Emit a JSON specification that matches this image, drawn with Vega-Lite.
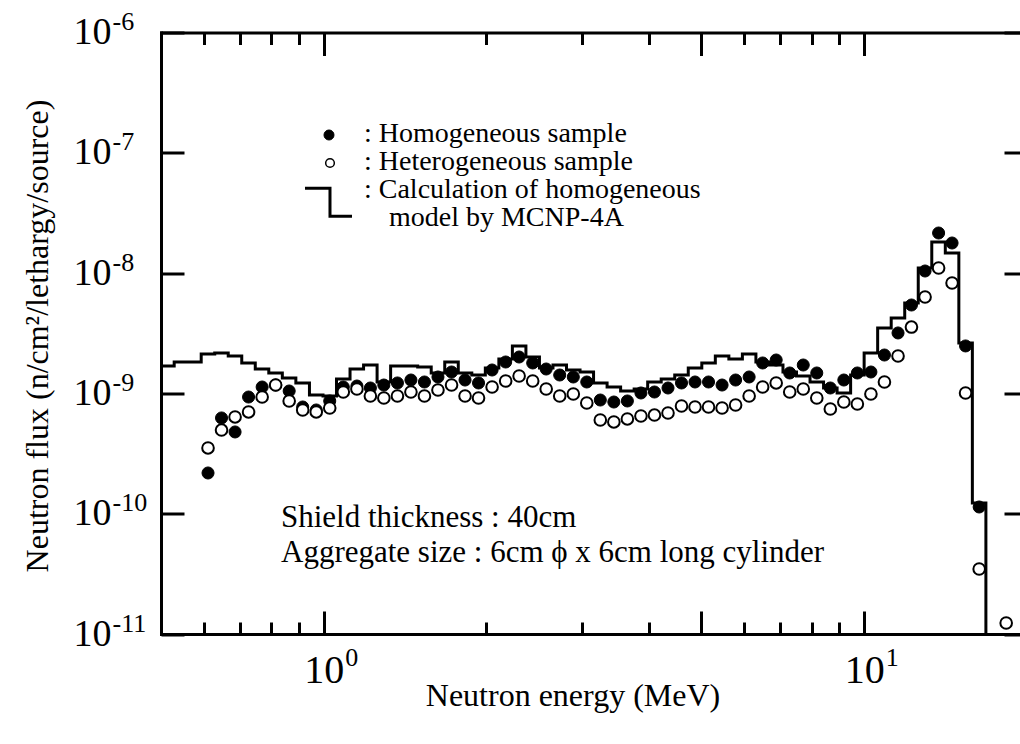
{
  "$schema": "https://vega.github.io/schema/vega-lite/v6.json",
  "width": 859,
  "height": 601.5,
  "autosize": "none",
  "padding": {"left": 161, "top": 32.5, "right": 0, "bottom": 110},
  "background": "white",
  "config": {
    "view": {"stroke": null},
    "axis": {
      "grid": false,
      "labelFont": "Liberation Serif",
      "titleFont": "Liberation Serif",
      "labelColor": "black",
      "titleColor": "black",
      "tickColor": "black",
      "domainColor": "black",
      "tickWidth": 3,
      "domainWidth": 3,
      "domainCap": "square",
      "titleFontWeight": "normal",
      "labelFlush": false,
      "labelOverlap": false
    }
  },
  "datasets": {
    "calc": [
      {"E": 0.5, "flux": 1.689e-9},
      {"E": 0.5289, "flux": 1.824e-9},
      {"E": 0.5603, "flux": 1.824e-9},
      {"E": 0.5934, "flux": 2.125e-9},
      {"E": 0.6286, "flux": 2.166e-9},
      {"E": 0.6658, "flux": 2.046e-9},
      {"E": 0.7053, "flux": 1.79e-9},
      {"E": 0.7471, "flux": 1.595e-9},
      {"E": 0.7914, "flux": 1.478e-9},
      {"E": 0.8384, "flux": 1.343e-9},
      {"E": 0.8881, "flux": 1.221e-9},
      {"E": 0.9411, "flux": 9.7e-10},
      {"E": 0.997, "flux": 9.51e-10},
      {"E": 1.0561, "flux": 1.318e-9},
      {"E": 1.1187, "flux": 1.595e-9},
      {"E": 1.1851, "flux": 1.722e-9},
      {"E": 1.2554, "flux": 1.244e-9},
      {"E": 1.3299, "flux": 1.689e-9},
      {"E": 1.4088, "flux": 1.689e-9},
      {"E": 1.4924, "flux": 1.657e-9},
      {"E": 1.5809, "flux": 1.478e-9},
      {"E": 1.6747, "flux": 1.824e-9},
      {"E": 1.7741, "flux": 1.478e-9},
      {"E": 1.8793, "flux": 1.422e-9},
      {"E": 1.9908, "flux": 1.626e-9},
      {"E": 2.1089, "flux": 1.931e-9},
      {"E": 2.234, "flux": 2.48e-9},
      {"E": 2.3666, "flux": 2.007e-9},
      {"E": 2.507, "flux": 1.626e-9},
      {"E": 2.6557, "flux": 1.722e-9},
      {"E": 2.8133, "flux": 1.565e-9},
      {"E": 2.9802, "flux": 1.506e-9},
      {"E": 3.157, "flux": 1.221e-9},
      {"E": 3.3443, "flux": 1.13e-9},
      {"E": 3.5427, "flux": 1.047e-9},
      {"E": 3.7529, "flux": 1.088e-9},
      {"E": 3.9756, "flux": 1.244e-9},
      {"E": 4.2114, "flux": 1.318e-9},
      {"E": 4.4613, "flux": 1.422e-9},
      {"E": 4.726, "flux": 1.626e-9},
      {"E": 5.0064, "flux": 1.79e-9},
      {"E": 5.3034, "flux": 2.046e-9},
      {"E": 5.6181, "flux": 1.931e-9},
      {"E": 5.9514, "flux": 2.125e-9},
      {"E": 6.3045, "flux": 1.824e-9},
      {"E": 6.6786, "flux": 1.722e-9},
      {"E": 7.0748, "flux": 1.506e-9},
      {"E": 7.4946, "flux": 1.395e-9},
      {"E": 7.9392, "flux": 1.244e-9},
      {"E": 8.4103, "flux": 1.109e-9},
      {"E": 8.9093, "flux": 1.008e-9},
      {"E": 9.4379, "flux": 1.422e-9},
      {"E": 9.9972, "flux": 2.166e-9},
      {"E": 10.59, "flux": 3.5e-9},
      {"E": 11.219, "flux": 4.23e-9},
      {"E": 11.884, "flux": 5.64e-9},
      {"E": 12.589, "flux": 1.102e-8},
      {"E": 13.336, "flux": 1.813e-8},
      {"E": 14.127, "flux": 1.469e-8},
      {"E": 14.966, "flux": 2.624e-9},
      {"E": 15.853, "flux": 1.227e-10},
      {"E": 16.794, "flux": 1e-12}
    ],
    "homogeneous": [
      {"E": 0.6109, "flux": 2.18e-10},
      {"E": 0.6471, "flux": 6.25e-10},
      {"E": 0.6855, "flux": 4.78e-10},
      {"E": 0.7261, "flux": 9.33e-10},
      {"E": 0.7693, "flux": 1.13e-9},
      {"E": 0.8149, "flux": 1.174e-9},
      {"E": 0.8632, "flux": 1.047e-9},
      {"E": 0.9144, "flux": 7.71e-10},
      {"E": 0.9687, "flux": 7.28e-10},
      {"E": 1.026, "flux": 8.65e-10},
      {"E": 1.087, "flux": 1.13e-9},
      {"E": 1.152, "flux": 1.152e-9},
      {"E": 1.22, "flux": 1.109e-9},
      {"E": 1.292, "flux": 1.174e-9},
      {"E": 1.369, "flux": 1.221e-9},
      {"E": 1.45, "flux": 1.292e-9},
      {"E": 1.536, "flux": 1.244e-9},
      {"E": 1.627, "flux": 1.369e-9},
      {"E": 1.724, "flux": 1.506e-9},
      {"E": 1.826, "flux": 1.292e-9},
      {"E": 1.934, "flux": 1.221e-9},
      {"E": 2.049, "flux": 1.565e-9},
      {"E": 2.171, "flux": 1.824e-9},
      {"E": 2.299, "flux": 2.007e-9},
      {"E": 2.436, "flux": 1.79e-9},
      {"E": 2.58, "flux": 1.595e-9},
      {"E": 2.733, "flux": 1.422e-9},
      {"E": 2.896, "flux": 1.369e-9},
      {"E": 3.067, "flux": 1.244e-9},
      {"E": 3.249, "flux": 8.81e-10},
      {"E": 3.442, "flux": 8.48e-10},
      {"E": 3.646, "flux": 8.65e-10},
      {"E": 3.863, "flux": 1.008e-9},
      {"E": 4.092, "flux": 1.027e-9},
      {"E": 4.335, "flux": 1.109e-9},
      {"E": 4.592, "flux": 1.221e-9},
      {"E": 4.864, "flux": 1.244e-9},
      {"E": 5.152, "flux": 1.244e-9},
      {"E": 5.458, "flux": 1.174e-9},
      {"E": 5.782, "flux": 1.292e-9},
      {"E": 6.125, "flux": 1.369e-9},
      {"E": 6.488, "flux": 1.79e-9},
      {"E": 6.873, "flux": 1.895e-9},
      {"E": 7.281, "flux": 1.478e-9},
      {"E": 7.713, "flux": 1.722e-9},
      {"E": 8.171, "flux": 1.478e-9},
      {"E": 8.656, "flux": 1.109e-9},
      {"E": 9.169, "flux": 1.292e-9},
      {"E": 9.713, "flux": 1.478e-9},
      {"E": 10.29, "flux": 1.506e-9},
      {"E": 10.9, "flux": 2.085e-9},
      {"E": 11.55, "flux": 3.18e-9},
      {"E": 12.23, "flux": 5.43e-9},
      {"E": 12.96, "flux": 1.041e-8},
      {"E": 13.73, "flux": 2.154e-8},
      {"E": 14.54, "flux": 1.779e-8},
      {"E": 15.4, "flux": 2.48e-9},
      {"E": 16.32, "flux": 1.137e-10}
    ],
    "heterogeneous": [
      {"E": 0.6109, "flux": 3.52e-10},
      {"E": 0.6471, "flux": 4.96e-10},
      {"E": 0.6855, "flux": 6.37e-10},
      {"E": 0.7261, "flux": 7.01e-10},
      {"E": 0.7693, "flux": 9.33e-10},
      {"E": 0.8149, "flux": 1.174e-9},
      {"E": 0.8632, "flux": 8.65e-10},
      {"E": 0.9144, "flux": 7.28e-10},
      {"E": 0.9687, "flux": 7.01e-10},
      {"E": 1.026, "flux": 7.56e-10},
      {"E": 1.087, "flux": 1.027e-9},
      {"E": 1.152, "flux": 1.088e-9},
      {"E": 1.22, "flux": 9.51e-10},
      {"E": 1.292, "flux": 9.16e-10},
      {"E": 1.369, "flux": 9.51e-10},
      {"E": 1.45, "flux": 1.027e-9},
      {"E": 1.536, "flux": 9.51e-10},
      {"E": 1.627, "flux": 1.067e-9},
      {"E": 1.724, "flux": 1.174e-9},
      {"E": 1.826, "flux": 9.51e-10},
      {"E": 1.934, "flux": 9.16e-10},
      {"E": 2.049, "flux": 1.13e-9},
      {"E": 2.171, "flux": 1.268e-9},
      {"E": 2.299, "flux": 1.395e-9},
      {"E": 2.436, "flux": 1.268e-9},
      {"E": 2.58, "flux": 1.088e-9},
      {"E": 2.733, "flux": 9.51e-10},
      {"E": 2.896, "flux": 9.89e-10},
      {"E": 3.067, "flux": 8.32e-10},
      {"E": 3.249, "flux": 6.01e-10},
      {"E": 3.442, "flux": 5.79e-10},
      {"E": 3.646, "flux": 6.13e-10},
      {"E": 3.863, "flux": 6.49e-10},
      {"E": 4.092, "flux": 6.61e-10},
      {"E": 4.335, "flux": 6.87e-10},
      {"E": 4.592, "flux": 7.86e-10},
      {"E": 4.864, "flux": 7.71e-10},
      {"E": 5.152, "flux": 7.71e-10},
      {"E": 5.458, "flux": 7.56e-10},
      {"E": 5.782, "flux": 8.01e-10},
      {"E": 6.125, "flux": 9.51e-10},
      {"E": 6.488, "flux": 1.13e-9},
      {"E": 6.873, "flux": 1.221e-9},
      {"E": 7.281, "flux": 1.027e-9},
      {"E": 7.713, "flux": 1.088e-9},
      {"E": 8.171, "flux": 9.16e-10},
      {"E": 8.656, "flux": 7.42e-10},
      {"E": 9.169, "flux": 8.48e-10},
      {"E": 9.713, "flux": 8.16e-10},
      {"E": 10.29, "flux": 9.89e-10},
      {"E": 10.9, "flux": 1.244e-9},
      {"E": 11.55, "flux": 2.046e-9},
      {"E": 12.23, "flux": 3.56e-9},
      {"E": 12.96, "flux": 6.33e-9},
      {"E": 13.73, "flux": 1.102e-8},
      {"E": 14.54, "flux": 8.27e-9},
      {"E": 15.4, "flux": 1.008e-9},
      {"E": 16.32, "flux": 3.47e-11},
      {"E": 18.31, "flux": 1.234e-11}
    ]
  },
  "resolve": {"axis": {"x": "independent", "y": "independent"}},
  "layer": [
    {
      "data": {"name": "calc"},
      "mark": {"type": "line", "interpolate": "step-after", "stroke": "black", "strokeWidth": 3, "clip": true},
      "encoding": {
        "x": {
          "field": "E", "type": "quantitative",
          "scale": {"type": "log", "domain": [0.5, 19.42], "nice": false},
          "axis": {
            "orient": "bottom", "values": [1, 5, 10], "tickSize": -23, "domain": true,
            "labelExpr": "datum.value == 5 ? '' : '10'",
            "labelFontSize": 40, "labelPadding": 71, "labelBaseline": "alphabetic", "labelAlign": "center",
            "title": "Neutron energy (MeV)", "titleFontSize": 32, "titleX": 411.5, "titleY": 71,
            "titleBaseline": "alphabetic", "titleAlign": "center"
          }
        },
        "y": {
          "field": "flux", "type": "quantitative",
          "scale": {"type": "log", "domain": [1e-11, 1e-6], "nice": false},
          "axis": {
            "orient": "left", "values": [1e-11, 1e-10, 1e-9, 1e-8, 1e-7, 1e-6], "tickSize": -23, "domain": true,
            "labelExpr": "'10'",
            "labelFontSize": 38, "labelAlign": "left", "labelBaseline": "middle", "labelPadding": 111,
            "title": "Neutron flux (n/cm²/lethargy/source)", "titleFontSize": 32, "titleAngle": -90,
            "titleX": -114, "titleY": 303, "titleBaseline": "alphabetic", "titleAlign": "center"
          }
        }
      }
    },
    {
      "data": {"name": "homogeneous"},
      "mark": {"type": "point", "shape": "circle", "size": 145, "fill": "black", "stroke": "black", "strokeWidth": 1, "opacity": 1, "filled": true},
      "encoding": {
        "x": {
          "field": "E", "type": "quantitative",
          "scale": {"type": "log", "domain": [0.5, 19.42], "nice": false},
          "axis": {
            "orient": "bottom", "values": [1, 10], "ticks": false, "domain": false,
            "labelExpr": "datum.value == 1 ? '0' : '1'",
            "labelFontSize": 26, "labelPadding": 31, "labelBaseline": "alphabetic", "labelAlign": "left", "labelOffset": 21,
            "title": null
          }
        },
        "y": {
          "field": "flux", "type": "quantitative",
          "scale": {"type": "log", "domain": [1e-11, 1e-6], "nice": false},
          "axis": {
            "orient": "left", "values": [1e-11, 1e-10, 1e-9, 1e-8, 1e-7, 1e-6], "ticks": false, "domain": false,
            "labelExpr": "['-11','-10','-9','-8','-7','-6'][round(log(datum.value)/LN10)+11]",
            "labelFontSize": 26, "labelAlign": "left", "labelBaseline": "alphabetic", "labelPadding": 49, "labelOffset": -3,
            "title": null
          }
        }
      }
    },
    {
      "data": {"name": "heterogeneous"},
      "mark": {"type": "point", "shape": "circle", "size": 135, "fill": "white", "stroke": "black", "strokeWidth": 2, "opacity": 1, "filled": false},
      "encoding": {
        "x": {
          "field": "E", "type": "quantitative",
          "scale": {"type": "log", "domain": [0.5, 19.42], "nice": false},
          "axis": {"orient": "bottom", "values": [0.6, 0.7, 0.8, 0.9, 2, 3, 4, 6, 7, 8, 9], "tickSize": -12, "labels": false, "domain": false, "title": null}
        },
        "y": {
          "field": "flux", "type": "quantitative",
          "scale": {"type": "log", "domain": [1e-11, 1e-6], "nice": false},
          "axis": {"orient": "right", "values": [1e-11, 1e-10, 1e-9, 1e-8, 1e-7, 1e-6], "tickSize": -16, "labels": false, "domain": false, "title": null}
        }
      }
    },
    {
      "data": {"values": [{}]},
      "mark": {"type": "text", "text": "Shield thickness : 40cm", "align": "left", "baseline": "alphabetic", "font": "Liberation Serif", "fontSize": 31, "fill": "black"},
      "encoding": {
        "x": {
          "datum": 0.8337, "type": "quantitative",
          "scale": {"type": "log", "domain": [0.5, 19.42], "nice": false},
          "axis": {"orient": "top", "values": [1, 5, 10], "tickSize": -23, "labels": false, "domain": true, "title": null}
        },
        "y": {
          "datum": 7.679e-11, "type": "quantitative",
          "scale": {"type": "log", "domain": [1e-11, 1e-6], "nice": false},
          "axis": null
        }
      }
    },
    {
      "data": {"values": [{}]},
      "mark": {"type": "text", "text": "Aggregate size : 6cm ϕ x 6cm long cylinder", "align": "left", "baseline": "alphabetic", "font": "Liberation Serif", "fontSize": 31, "fill": "black"},
      "encoding": {
        "x": {
          "datum": 0.8337, "type": "quantitative",
          "scale": {"type": "log", "domain": [0.5, 19.42], "nice": false},
          "axis": {"orient": "top", "values": [0.6, 0.7, 0.8, 0.9, 2, 3, 4, 6, 7, 8, 9], "tickSize": -12, "labels": false, "domain": false, "title": null}
        },
        "y": {
          "datum": 4.005e-11, "type": "quantitative",
          "scale": {"type": "log", "domain": [1e-11, 1e-6], "nice": false},
          "axis": null
        }
      }
    },
    {
      "data": {"values": [{}]},
      "mark": {"type": "point", "shape": "circle", "size": 100, "fill": "black", "stroke": "black", "strokeWidth": 1, "opacity": 1, "filled": true},
      "encoding": {
        "x": {"datum": 1.0228, "type": "quantitative", "scale": {"type": "log", "domain": [0.5, 19.42], "nice": false}, "axis": null},
        "y": {"datum": 1.406e-7, "type": "quantitative", "scale": {"type": "log", "domain": [1e-11, 1e-6], "nice": false}, "axis": null}
      }
    },
    {
      "data": {"values": [{}]},
      "mark": {"type": "point", "shape": "circle", "size": 75, "fill": "white", "stroke": "black", "strokeWidth": 1.5, "opacity": 1, "filled": false},
      "encoding": {
        "x": {"datum": 1.0272, "type": "quantitative", "scale": {"type": "log", "domain": [0.5, 19.42], "nice": false}, "axis": null},
        "y": {"datum": 8.228e-8, "type": "quantitative", "scale": {"type": "log", "domain": [1e-11, 1e-6], "nice": false}, "axis": null}
      }
    },
    {
      "data": {"values": [{}]},
      "mark": {"type": "point", "shape": "M-4.7,-2.8H0.3V2.8H4.7", "size": 100, "fill": "transparent", "stroke": "black", "strokeWidth": 3, "opacity": 1, "filled": false},
      "encoding": {
        "x": {"datum": 1.0206, "type": "quantitative", "scale": {"type": "log", "domain": [0.5, 19.42], "nice": false}, "axis": null},
        "y": {"datum": 3.886e-8, "type": "quantitative", "scale": {"type": "log", "domain": [1e-11, 1e-6], "nice": false}, "axis": null}
      }
    },
    {
      "data": {"values": [{}]},
      "mark": {"type": "text", "text": [": Homogeneous sample", ": Heterogeneous sample", ": Calculation of homogeneous"], "lineHeight": 28, "align": "left", "baseline": "alphabetic", "font": "Liberation Serif", "fontSize": 28, "fill": "black"},
      "encoding": {
        "x": {"datum": 1.1872, "type": "quantitative", "scale": {"type": "log", "domain": [0.5, 19.42], "nice": false}, "axis": null},
        "y": {"datum": 1.2414e-7, "type": "quantitative", "scale": {"type": "log", "domain": [1e-11, 1e-6], "nice": false}, "axis": null}
      }
    },
    {
      "data": {"values": [{}]},
      "mark": {"type": "text", "text": "model by MCNP-4A", "align": "left", "baseline": "alphabetic", "font": "Liberation Serif", "fontSize": 28, "fill": "black"},
      "encoding": {
        "x": {"datum": 1.3206, "type": "quantitative", "scale": {"type": "log", "domain": [0.5, 19.42], "nice": false}, "axis": null},
        "y": {"datum": 2.487e-8, "type": "quantitative", "scale": {"type": "log", "domain": [1e-11, 1e-6], "nice": false}, "axis": null}
      }
    }
  ]
}
